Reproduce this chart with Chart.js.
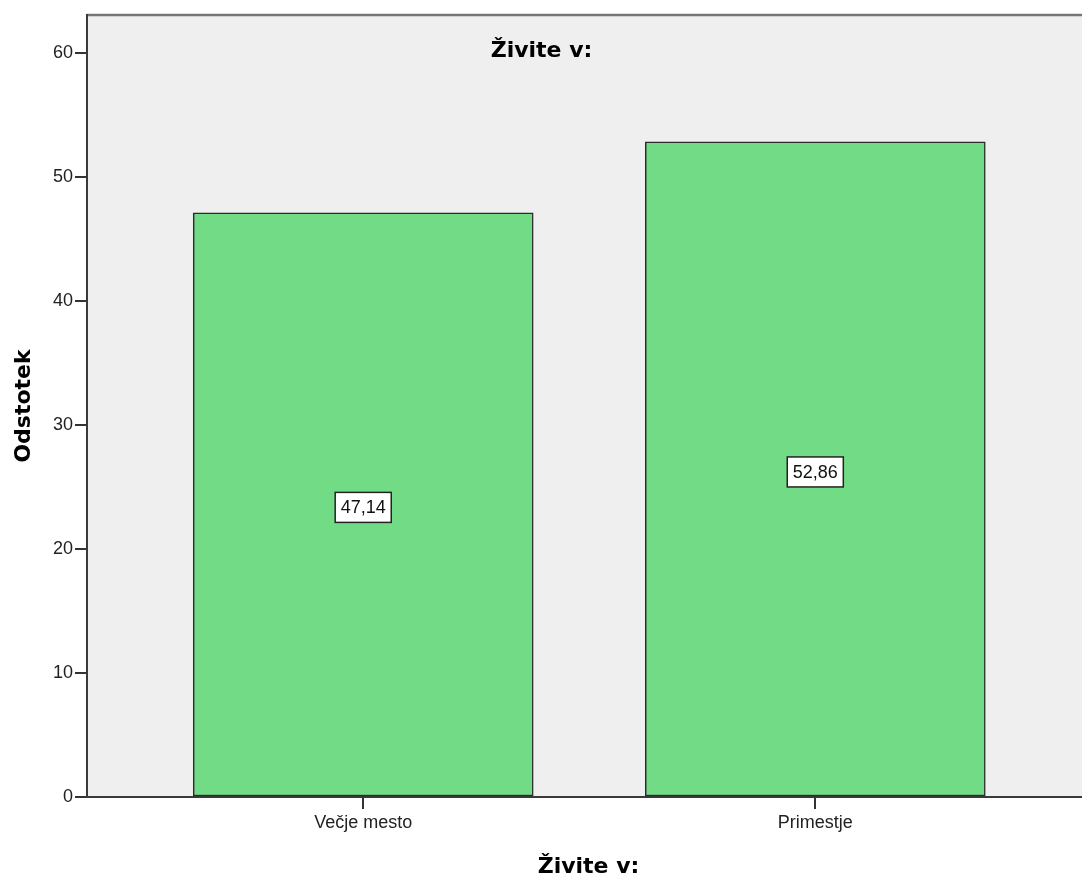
<!DOCTYPE html>
<html>
<head>
<meta charset="utf-8">
<script src="https://cdn.jsdelivr.net/npm/chart.js@4/dist/chart.umd.min.js"></script>
<style>
    html, body { margin: 0; padding: 0; background: #fff; overflow: hidden; }
    #wrap { width: 1082px; height: 877px; position: relative; }
</style>
</head>
<body>
<div id="wrap"><canvas id="chart"></canvas></div>
<script>
// --- data ---
const categories = ['Večje mesto', 'Primestje'];
const percentages = [47.14, 52.86];
const valueLabels = ['47,14', '52,86'];
const yTicks = [0, 10, 20, 30, 40, 50, 60];
const chartTitle = 'Živite v:';
const xTitle = 'Živite v:';
const yTitle = 'Odstotek';

const tickFont = { family: 'Liberation Sans, Arial, sans-serif', size: 18 };
const titleFont = 'bold 22px "DejaVu Sans", Verdana, sans-serif';

// grey plot background, top frame line, value boxes and titles
const spssLook = {
    id: 'spssLook',
    beforeDraw(chart) {
        const { ctx, chartArea: a } = chart;
        ctx.save();
        ctx.fillStyle = '#efefef';
        ctx.fillRect(a.left, a.top, a.right - a.left, a.bottom - a.top);
        ctx.strokeStyle = '#777';
        ctx.lineWidth = 2.5;
        ctx.beginPath();
        ctx.moveTo(a.left, a.top);
        ctx.lineTo(a.right, a.top);
        ctx.stroke();
        ctx.restore();
    },
    afterDatasetsDraw(chart) {
        const ctx = chart.ctx;
        const meta = chart.getDatasetMeta(0);
        ctx.save();
        ctx.font = '18px "Liberation Sans", Arial, sans-serif';
        ctx.textAlign = 'center';
        ctx.textBaseline = 'middle';
        meta.data.forEach(function(bar, i) {
            const text = valueLabels[i];
            const cx = bar.x;
            const cy = (bar.y + bar.base) / 2 + 3;
            const w = ctx.measureText(text).width + 11;
            const h = 30;
            ctx.fillStyle = '#fff';
            ctx.fillRect(cx - w / 2, cy - h / 2, w, h);
            ctx.strokeStyle = '#222';
            ctx.lineWidth = 1.5;
            ctx.strokeRect(cx - w / 2, cy - h / 2, w, h);
            ctx.fillStyle = '#111';
            ctx.fillText(text, cx, cy + 1);
        });
        ctx.restore();
    },
    afterDraw(chart) {
        const { ctx, chartArea: a } = chart;
        ctx.save();
        ctx.font = titleFont;
        ctx.fillStyle = '#000';
        ctx.textAlign = 'center';
        ctx.textBaseline = 'alphabetic';
        ctx.fillText(chartTitle, 541.5, 56.5);
        ctx.fillText(xTitle, (a.left + a.right) / 2 + 4, 873);
        ctx.translate(24, (a.top + a.bottom) / 2);
        ctx.rotate(-Math.PI / 2);
        ctx.textBaseline = 'middle';
        ctx.fillText(yTitle, 0, 0);
        ctx.restore();
    }
};

const ctx = document.getElementById('chart').getContext('2d');
new Chart(ctx, {
    type: 'bar',
    data: {
        datasets: [{
            label: 'Odstotek',
            data: categories.map((c, i) => ({ x: i + 1, y: percentages[i] })),
            backgroundColor: '#71dc85',
            borderColor: '#2a2a2a',
            borderWidth: 1.5,
            borderSkipped: false,
            barThickness: 340
        }]
    },
    options: {
        responsive: true,
        maintainAspectRatio: false,
        animation: false,
        layout: { padding: { top: 15, right: 0, bottom: 0, left: 0 } },
        plugins: {
            legend: { display: false },
            tooltip: { enabled: false }
        },
        scales: {
            x: {
                type: 'linear',
                offset: false,
                min: 0.389,
                max: 2.59,
                afterBuildTicks: (s) => { s.ticks = categories.map((c, i) => ({ value: i + 1 })); },
                afterFit: (s) => { s.height = 80; },
                grid: { offset: false, drawOnChartArea: false, tickLength: 12, color: '#333', lineWidth: 2 },
                border: { color: '#3a3a3a', width: 2 },
                ticks: {
                    autoSkip: false,
                    maxRotation: 0,
                    padding: 3,
                    color: '#222',
                    font: tickFont,
                    callback: (v) => categories[v - 1]
                }
            },
            y: {
                min: 0,
                max: 63.1,
                afterBuildTicks: (s) => { s.ticks = yTicks.map(v => ({ value: v })); },
                afterFit: (s) => { s.width = 87; },
                grid: { drawOnChartArea: false, tickLength: 12, color: '#333', lineWidth: 2 },
                border: { color: '#3a3a3a', width: 2 },
                ticks: {
                    padding: 2,
                    color: '#222',
                    font: tickFont
                }
            }
        }
    },
    plugins: [spssLook]
});
</script>
</body>
</html>
